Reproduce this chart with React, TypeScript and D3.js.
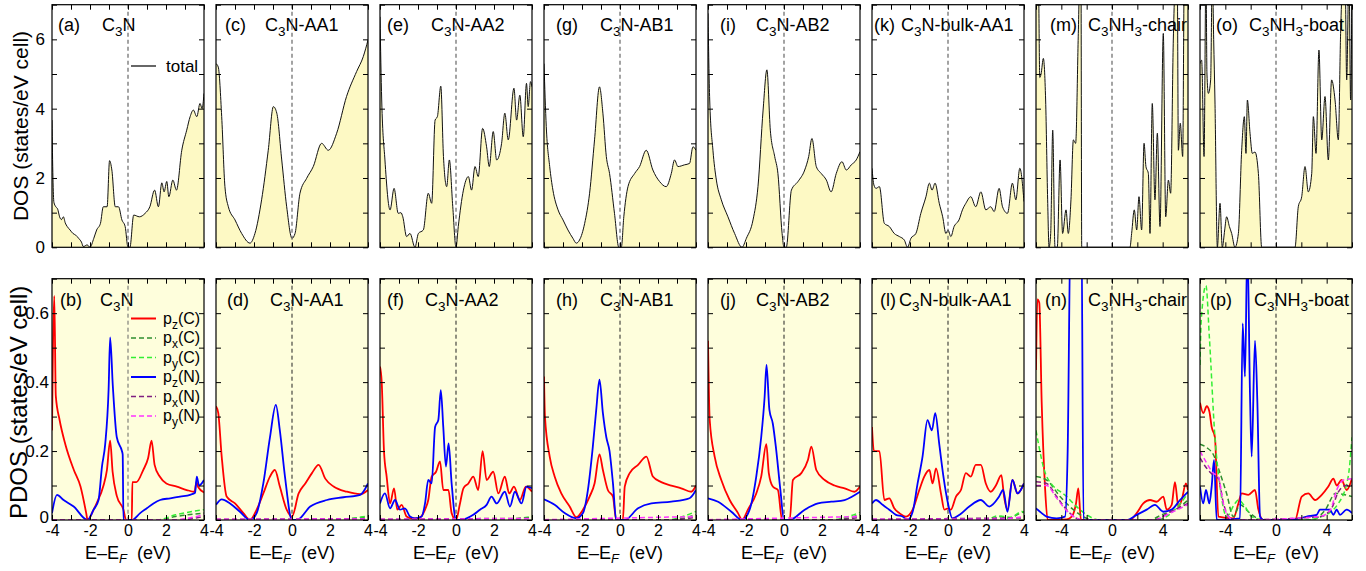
import React, { useRef, useEffect } from "react";
import * as d3 from "d3";

type Pt = [number, number];

// total DOS, top row: [E - EF (eV), states/eV cell]
const dosA: Pt[] = [[-4,3.67],[-3.95,2.0],[-3.9,1.3],[-3.8,1.17],[-3.7,1.1],[-3.6,0.88],[-3.5,0.8],[-3.4,0.88],[-3.3,0.7],[-3.2,0.6],[-3.05,0.5],[-2.9,0.4],[-2.75,0.35],[-2.6,0.26],[-2.45,0.15],[-2.35,0.02],[-2.15,0.07],[-2.0,0.0],[-1.8,0.26],[-1.65,0.5],[-1.45,0.69],[-1.3,1.17],[-1.1,1.17],[-0.97,2.5],[-0.85,2.23],[-0.67,1.17],[-0.5,1.17],[-0.32,0.79],[-0.15,0.6],[0,0],[0.1,0],[0.3,0.93],[0.6,0.88],[0.9,0.98],[1.15,1.17],[1.4,1.65],[1.6,1.17],[1.78,1.86],[1.9,1.6],[2.04,1.9],[2.15,1.46],[2.36,1.94],[2.55,1.65],[2.83,2.8],[3.09,3.38],[3.27,3.77],[3.44,3.96],[3.62,3.77],[3.79,4.15],[3.9,4.0],[4,4.44]];
const dosC: Pt[] = [[-4,5.3],[-3.88,5.2],[-3.7,3.77],[-3.53,1.75],[-3.35,1.17],[-3.0,0.79],[-2.65,0.4],[-2.21,0.12],[-1.95,0.4],[-1.6,1.37],[-1.25,2.8],[-0.98,4.06],[-0.8,3.87],[-0.54,2.52],[-0.28,1.17],[0,0.26],[0.16,0.4],[0.42,1.56],[0.77,1.99],[1.12,2.33],[1.56,3.0],[1.91,2.8],[2.35,3.29],[2.87,4.35],[3.4,5.07],[3.75,5.5],[4,5.98]];
const dosE: Pt[] = [[-4,6.65],[-3.91,4.25],[-3.74,2.52],[-3.47,1.08],[-3.26,1.7],[-3.04,0.98],[-2.9,1.0],[-2.8,0.88],[-2.6,0.31],[-2.42,0.4],[-2.16,0],[-1.98,0.4],[-1.72,0.5],[-1.46,1.56],[-1.28,1.27],[-1.1,3.67],[-0.98,3.77],[-0.8,4.65],[-0.66,2.62],[-0.49,1.75],[-0.35,2.52],[-0.17,1.17],[0,0],[0.12,0.6],[0.39,1.65],[0.65,2.04],[0.82,1.65],[1.0,2.33],[1.17,2.04],[1.4,3.43],[1.61,2.9],[1.75,2.33],[1.96,3.34],[2.14,2.52],[2.4,3.0],[2.57,3.87],[2.75,3.1],[3.05,4.59],[3.19,3.67],[3.36,4.39],[3.54,3.19],[3.71,4.73],[3.8,4.06],[3.92,4.78],[4,4.63]];
const dosG: Pt[] = [[-4,5.3],[-3.88,3.48],[-3.7,2.33],[-3.53,1.65],[-3.26,1.08],[-3.0,0.79],[-2.74,0.5],[-2.48,0.26],[-2.3,0.12],[-2.13,0.21],[-1.86,0.69],[-1.6,1.56],[-1.34,3.1],[-1.08,4.63],[-0.9,3.87],[-0.72,2.62],[-0.55,2.13],[-0.29,0.98],[-0.06,0],[0.07,0],[0.2,0.88],[0.42,1.75],[0.77,2.13],[1.03,2.33],[1.38,2.8],[1.73,2.23],[2.08,1.9],[2.43,1.75],[2.7,2.13],[2.87,2.52],[3.05,2.33],[3.4,2.38],[3.66,2.42],[3.84,2.9],[4,2.8]];
const dosI: Pt[] = [[-4,6.75],[-3.91,4.25],[-3.74,2.8],[-3.56,1.94],[-3.3,1.37],[-2.95,0.88],[-2.6,0.4],[-2.21,0],[-1.98,0.26],[-1.63,0.79],[-1.37,1.75],[-1.1,3.96],[-0.9,5.12],[-0.72,3.38],[-0.49,2.62],[-0.32,2.13],[-0.1,0.4],[0,0],[0.12,0],[0.39,1.65],[0.74,1.9],[1.09,2.23],[1.3,2.62],[1.47,3.14],[1.7,2.33],[1.96,2.13],[2.23,1.94],[2.48,1.6],[2.75,2.13],[3.05,2.47],[3.28,2.23],[3.54,2.38],[3.8,2.52],[4,2.76]];
const dosK: Pt[] = [[-4,2.28],[-3.9,1.8],[-3.79,1.7],[-3.61,1.75],[-3.35,0.69],[-3.09,0.6],[-2.83,0.4],[-2.56,0.31],[-2.3,0.21],[-2.13,0],[-1.95,0.26],[-1.69,0.4],[-1.43,0.98],[-1.16,1.46],[-0.98,1.85],[-0.84,1.65],[-0.68,1.85],[-0.46,1.27],[-0.28,0.88],[-0.11,0.4],[0,0.5],[0.15,0.31],[0.32,0.6],[0.58,0.79],[0.76,1.08],[0.94,1.27],[1.2,1.46],[1.46,1.17],[1.73,1.6],[1.99,1.08],[2.25,1.17],[2.43,1.03],[2.69,1.7],[2.87,1.17],[3.13,0.98],[3.39,1.85],[3.57,1.37],[3.78,2.28],[4,1.32]];
const dosM: Pt[] = [[-6,8],[-5.82,8],[-5.7,4.9],[-5.6,5.0],[-5.42,5.45],[-5.24,4.25],[-5.08,1.37],[-4.97,0],[-4.84,0.4],[-4.68,3.38],[-4.5,0],[-4.32,0],[-4.1,2.52],[-3.9,0.4],[-3.63,1.08],[-3.45,0.4],[-3.24,1.37],[-3.05,3.1],[-2.87,3.0],[-2.66,6.17],[-2.53,8],[-2.45,8],[-2.39,0],[1.42,0],[1.55,0.4],[1.76,1.08],[1.95,0.5],[2.13,1.46],[2.34,0.5],[2.53,3.0],[2.68,2.33],[2.87,2.13],[3.0,0.4],[3.18,4.15],[3.39,1.37],[3.58,3.29],[3.79,0.6],[4.05,6.17],[4.24,0.88],[4.45,1.94],[4.63,1.56],[4.84,5.98],[5.05,8],[5.15,8],[5.24,2.8],[5.39,3.58],[5.58,2.62],[5.71,8],[6,8]];
const dosO: Pt[] = [[-6,5.3],[-5.87,5.4],[-5.68,2.62],[-5.53,8],[-5.45,5.0],[-5.34,4.44],[-5.16,4.83],[-5.03,8],[-4.92,6],[-4.82,4.25],[-4.63,0],[-4.42,1.27],[-4.24,0],[-4.05,0.5],[-3.9,0.88],[-3.68,0.6],[-3.5,0.4],[-3.24,0],[-2.97,0.4],[-2.71,2.8],[-2.5,3.77],[-2.37,2.71],[-2.26,4.25],[-2.05,3.29],[-1.87,2.71],[-1.66,2.75],[-1.39,2.13],[-1.13,0],[1.5,0],[1.76,1.17],[2.03,1.46],[2.29,2.33],[2.55,1.6],[2.82,2.13],[2.95,3.77],[3.16,2.71],[3.39,5.69],[3.61,3.1],[3.87,4.35],[4.13,2.52],[4.39,4.83],[4.66,4.25],[4.92,3.1],[5.1,6.17],[5.32,8],[5.45,8],[5.58,4.83],[5.76,8],[5.89,4.25],[6,8]];

// projected DOS, bottom row: pz(C), px(C), py(C), pz(N), px(N), py(N)
const pzC_b: Pt[] = [[-4,0.26],[-3.95,0.5],[-3.88,0.65],[-3.8,0.36],[-3.6,0.29],[-3.3,0.22],[-2.85,0.145],[-2.5,0.097],[-2.2,0.02],[-2.13,0],[-1.81,0.03],[-1.64,0.05],[-1.29,0.1],[-1.11,0.145],[-0.94,0.23],[-0.81,0.14],[-0.59,0.07],[-0.24,0.03],[-0.1,0],[0.2,0],[0.23,0.11],[0.44,0.11],[0.8,0.145],[1.06,0.18],[1.24,0.23],[1.4,0.16],[1.67,0.126],[2.02,0.106],[2.57,0.097],[3.09,0.087],[3.5,0.082],[3.6,0.11],[3.7,0.095],[4,0.08]];
const pzN_b: Pt[] = [[-4,0.02],[-3.74,0.073],[-3.39,0.058],[-2.86,0.039],[-2.13,0],[-1.81,0.03],[-1.55,0.058],[-1.37,0.155],[-1.2,0.22],[-1.02,0.38],[-0.94,0.53],[-0.8,0.39],[-0.59,0.24],[-0.32,0.2],[-0.28,0.19],[-0.24,0],[0.2,0],[0.64,0.02],[0.99,0.034],[1.34,0.048],[1.69,0.058],[2.22,0.063],[2.74,0.068],[3.27,0.073],[3.53,0.079],[3.62,0.126],[3.74,0.1],[4,0.116]];
const pxC_b: Pt[] = [[-4,0],[1.6,0],[2.5,0.01],[4,0.02]];
const pyC_b: Pt[] = [[-4,0],[1.5,0],[2.5,0.015],[4,0.03]];
const pxN_b: Pt[] = [[-4,0],[2.5,0],[4,0.01]];
const pyN_b: Pt[] = [[-4,0],[2.2,0],[4,0.015]];

const pzC_d: Pt[] = [[-4,0.33],[-3.88,0.31],[-3.7,0.184],[-3.44,0.068],[-3.0,0.048],[-2.56,0.02],[-2.21,0],[-1.86,0.03],[-1.51,0.077],[-1.16,0.126],[-0.9,0.145],[-0.64,0.097],[-0.28,0.03],[0,0.01],[0.35,0.077],[0.7,0.106],[1.05,0.136],[1.4,0.16],[1.75,0.12],[2.19,0.097],[2.89,0.082],[3.59,0.075],[4,0.087]];
const pzN_d: Pt[] = [[-4,0.044],[-3.7,0.06],[-3.26,0.048],[-2.74,0.024],[-2.21,0],[-1.86,0.02],[-1.51,0.106],[-1.16,0.24],[-0.85,0.334],[-0.64,0.26],[-0.37,0.126],[0,0],[0.26,0],[0.96,0.039],[1.84,0.058],[2.71,0.066],[3.59,0.073],[4,0.106]];
const pxC_d: Pt[] = [[-4,0],[2.0,0],[4,0.01]];
const pyC_d: Pt[] = [[-4,0],[2.2,0],[4,0.012]];
const pxN_d: Pt[] = [[-4,0.002],[4,0.004]];
const pyN_d: Pt[] = [[-4,0.002],[4,0.003]];

const pzC_f: Pt[] = [[-4,0.445],[-3.91,0.4],[-3.79,0.2],[-3.65,0.126],[-3.47,0.048],[-3.26,0.092],[-3.09,0.03],[-2.86,0.044],[-2.6,0.01],[-2.34,0.005],[-1.98,0.005],[-1.63,0.03],[-1.46,0.058],[-1.28,0.126],[-1.05,0.14],[-0.84,0.17],[-0.67,0.087],[-0.4,0.087],[-0.23,0.02],[0,0],[0.21,0.048],[0.39,0.092],[0.65,0.106],[0.91,0.126],[1.17,0.087],[1.4,0.2],[1.61,0.116],[1.96,0.14],[2.23,0.077],[2.57,0.126],[2.8,0.077],[3.05,0.097],[3.36,0.058],[3.68,0.097],[4,0.082]];
const pzN_f: Pt[] = [[-4,0.048],[-3.74,0.077],[-3.47,0.034],[-3.21,0.058],[-2.95,0.03],[-2.69,0.034],[-2.42,0.01],[-2.16,0.005],[-1.81,0.01],[-1.63,0.048],[-1.46,0.116],[-1.28,0.106],[-1.1,0.27],[-0.93,0.29],[-0.8,0.377],[-0.67,0.27],[-0.53,0.155],[-0.39,0.222],[-0.23,0.106],[0,0],[0.21,0],[0.91,0.015],[1.26,0.03],[1.61,0.044],[1.87,0.068],[2.14,0.048],[2.57,0.082],[2.84,0.039],[3.1,0.082],[3.45,0.048],[3.71,0.097],[4,0.092]];
const pxC_f: Pt[] = [[-4,0],[2.5,0],[4,0.008]];
const pyC_f: Pt[] = [[-4,0],[2.3,0],[4,0.01]];
const pxN_f: Pt[] = [[-4,0.002],[4,0.005]];
const pyN_f: Pt[] = [[-4,0.002],[4,0.004]];

const pzC_h: Pt[] = [[-4,0.416],[-3.95,0.3],[-3.7,0.184],[-3.44,0.126],[-3.09,0.077],[-2.65,0.039],[-2.3,0.008],[-1.95,0.03],[-1.6,0.068],[-1.34,0.106],[-1.08,0.19],[-0.9,0.145],[-0.64,0.087],[-0.37,0.068],[-0.2,0],[0.15,0],[0.25,0.097],[0.51,0.136],[0.95,0.16],[1.39,0.184],[1.73,0.126],[2.17,0.11],[2.7,0.1],[3.22,0.092],[3.75,0.082],[4,0.1]];
const pzN_h: Pt[] = [[-4,0.06],[-3.44,0.044],[-2.91,0.02],[-2.3,0.005],[-1.95,0.02],[-1.69,0.087],[-1.43,0.213],[-1.25,0.32],[-1.08,0.407],[-0.9,0.31],[-0.72,0.24],[-0.55,0.2],[-0.37,0.106],[-0.2,0],[0.25,0],[0.95,0.034],[1.65,0.048],[2.7,0.053],[3.66,0.063],[4,0.087]];
const pxC_h: Pt[] = [[-4,0],[2.6,0],[4,0.015]];
const pyC_h: Pt[] = [[-4,0],[2.4,0],[4,0.025]];
const pxN_h: Pt[] = [[-4,0],[2.5,0],[4,0.008]];
const pyN_h: Pt[] = [[-4,0.001],[4,0.01]];

const pzC_j: Pt[] = [[-4,0.52],[-3.91,0.29],[-3.65,0.184],[-3.3,0.116],[-2.86,0.058],[-2.42,0.02],[-2.21,0],[-1.9,0.03],[-1.46,0.077],[-1.2,0.126],[-0.93,0.22],[-0.8,0.136],[-0.59,0.097],[-0.32,0.087],[-0.1,0],[0.3,0],[0.47,0.116],[0.91,0.136],[1.26,0.174],[1.44,0.213],[1.7,0.145],[2.14,0.116],[2.66,0.1],[3.19,0.092],[3.71,0.082],[4,0.097]];
const pzN_j: Pt[] = [[-4,0.063],[-3.47,0.053],[-2.77,0.024],[-2.21,0],[-1.81,0.03],[-1.46,0.126],[-1.2,0.24],[-1.02,0.357],[-0.92,0.45],[-0.77,0.32],[-0.59,0.28],[-0.42,0.208],[-0.19,0.087],[0,0],[0.3,0],[1.09,0.03],[1.79,0.048],[2.49,0.053],[3.19,0.058],[4,0.082]];
const pxC_j: Pt[] = [[-4,0],[2.6,0],[4,0.015]];
const pyC_j: Pt[] = [[-4,0],[2.4,0],[4,0.022]];
const pxN_j: Pt[] = [[-4,0],[2.5,0],[4,0.008]];
const pyN_j: Pt[] = [[-4,0.001],[4,0.01]];

const pzC_l: Pt[] = [[-4,0.27],[-3.9,0.2],[-3.79,0.2],[-3.61,0.2],[-3.35,0.058],[-3.09,0.063],[-2.83,0.034],[-2.56,0.02],[-2.21,0.01],[-1.86,0.03],[-1.51,0.087],[-1.25,0.126],[-0.98,0.145],[-0.81,0.106],[-0.63,0.15],[-0.37,0.077],[-0.19,0.03],[0,0.034],[0.15,0.03],[0.42,0.068],[0.68,0.087],[0.94,0.136],[1.2,0.126],[1.46,0.16],[1.73,0.16],[1.99,0.106],[2.25,0.082],[2.52,0.1],[2.81,0.13],[2.95,0.068],[3.13,0.03],[3.39,0.116],[3.66,0.077],[4,0.106]];
const pzN_l: Pt[] = [[-4,0.048],[-3.79,0.058],[-3.44,0.044],[-3.09,0.03],[-2.74,0.015],[-2.39,0.01],[-2.13,0],[-1.86,0.024],[-1.6,0.106],[-1.34,0.184],[-1.08,0.29],[-0.85,0.26],[-0.67,0.31],[-0.46,0.22],[-0.24,0.126],[0,0.048],[0.23,0.005],[0.61,0.015],[1.12,0.039],[1.73,0.058],[2.17,0.039],[2.69,0.068],[2.9,0.087],[3.13,0.024],[3.39,0.116],[3.66,0.077],[4,0.106]];
const pxC_l: Pt[] = [[-4,0],[2.2,0],[2.8,0.01],[3.2,0.005],[3.8,0.02],[4,0.024]];
const pyC_l: Pt[] = [[-4,0],[2.0,0],[2.6,0.012],[3.3,0.008],[3.9,0.025],[4,0.02]];
const pxN_l: Pt[] = [[-4,0.002],[4,0.006]];
const pyN_l: Pt[] = [[-4,0.002],[2.5,0.002],[4,0.01]];

const pzC_n: Pt[] = [[-6,0.435],[-5.89,0.64],[-5.74,0.63],[-5.55,0.34],[-5.29,0.097],[-5.08,0],[-3.58,0.002],[-3.18,0.01],[-2.84,0.048],[-2.66,0.092],[-2.45,0],[1.42,0],[1.95,0.02],[2.47,0.048],[3.0,0.058],[3.53,0.053],[4.05,0.068],[4.32,0.03],[4.71,0.044],[4.97,0.11],[5.24,0.039],[5.5,0.058],[5.84,0.106],[6,0.087]];
const pxC_n: Pt[] = [[-6,0.126],[-5.16,0.116],[-4.1,0.068],[-3.05,0.03],[-2.0,0.005],[-1.5,0],[3.0,0],[3.9,0.015],[5.2,0.034],[6,0.058]];
const pyC_n: Pt[] = [[-6,0.26],[-5.16,0.126],[-3.58,0.068],[-2.53,0.03],[-1.5,0.005],[-1,0],[3.4,0],[4.3,0.01],[5.4,0.048],[6,0.078]];
const pzN_n: Pt[] = [[-6,0.034],[-5.55,0.02],[-5.16,0.01],[-4.37,0.005],[-3.71,0.01],[-3.5,0.2],[-3.25,0.9],[-2.42,0.9],[-2.25,0],[1.16,0],[1.95,0.015],[2.74,0.03],[3.39,0.044],[4.05,0.024],[4.71,0.03],[5.37,0.058],[6,0.082]];
const pxN_n: Pt[] = [[-6,0.111],[-5.16,0.106],[-4.37,0.068],[-3.58,0.03],[-2.8,0.005],[-2.4,0],[3.3,0],[4.6,0.024],[6,0.048]];
const pyN_n: Pt[] = [[-6,0.1],[-5.16,0.1],[-4.4,0.065],[-3.6,0.028],[-2.8,0.005],[-2.4,0],[3.3,0],[4.6,0.02],[6,0.045]];

const pzC_p: Pt[] = [[-6,0.34],[-5.74,0.31],[-5.47,0.33],[-5.26,0.315],[-5.08,0.27],[-4.82,0.24],[-4.55,0.01],[-3.37,0.005],[-2.97,0.048],[-2.71,0.077],[-2.18,0.073],[-1.66,0.087],[-1.39,0.03],[-1.0,0],[1.5,0],[2.03,0.068],[2.55,0.077],[3.08,0.058],[3.61,0.073],[4.13,0.097],[4.53,0.12],[4.79,0.1],[5.18,0.116],[5.58,0.087],[6,0.12]];
const pxC_p: Pt[] = [[-6,0.22],[-5.47,0.21],[-4.95,0.19],[-4.42,0.136],[-3.9,0.077],[-3.37,0.01],[-2.84,0.044],[-2.18,0.024],[-1.5,0.005],[-1,0],[2.8,0],[3.9,0.03],[4.7,0.077],[6,0.068]];
const pyC_p: Pt[] = [[-6,0.45],[-5.9,0.58],[-5.53,0.68],[-5.26,0.53],[-4.82,0.24],[-4.42,0.097],[-3.9,0.01],[-3.24,0.048],[-2.97,0.058],[-2.45,0.039],[-1.92,0.01],[-0.95,0],[2.3,0],[3.61,0.01],[4.92,0.048],[5.7,0.126],[6,0.24]];
const pzN_p: Pt[] = [[-6,0.097],[-5.74,0.048],[-5.53,0.087],[-5.26,0.048],[-5.08,0.097],[-4.89,0.174],[-4.68,0],[-2.84,0.005],[-2.63,0.57],[-2.45,0.416],[-2.26,0.8],[-2.05,0.358],[-1.92,0.184],[-1.66,0.52],[-1.47,0.34],[-1.26,0.01],[-1.0,0],[1.5,0.002],[2.42,0.01],[3.21,0.015],[3.47,0.03],[4.26,0.03],[4.53,0.015],[4.79,0.03],[5.05,0.015],[5.58,0.03],[6,0.02]];
const pxN_p: Pt[] = [[-6,0.18],[-5.47,0.15],[-4.95,0.13],[-4.55,0.12],[-4.16,0.05],[-3.6,0.005],[-3.2,0],[3.5,0.01],[4.4,0.035],[4.9,0.08],[5.5,0.1],[6,0.1]];
const pyN_p: Pt[] = [[-6,0.2],[-5.47,0.165],[-4.95,0.136],[-4.55,0.126],[-4.16,0.048],[-3.63,0.005],[-3.2,0],[3.5,0.01],[4.3,0.03],[4.79,0.087],[5.32,0.116],[6,0.12]];

// ticks
const narrowTicks = [-4, -3, -2, -1, 0, 1, 2, 3, 4];
const narrowLabels = [-4, -2, 0, 2, 4];
const wideTicks = [-6, -4, -2, 0, 2, 4, 6];
const wideLabels = [-4, 0, 4];
const dosTicks = [0, 1, 2, 3, 4, 5, 6, 7];
const dosLabels = [0, 2, 4, 6];
const pdosTicks = [0, 0.1, 0.2, 0.3, 0.4, 0.5, 0.6, 0.7];
const pdosLabels = [0, 0.2, 0.4, 0.6];

const legendNames = ["p_z(C)", "p_x(C)", "p_y(C)", "p_z(N)", "p_x(N)", "p_y(N)"];
const seriesColors = ["#ff0000", "#2f8f2f", "#33ee33", "#0000ff", "#801f80", "#ff33ff"];

const topPanels = [
  { tag: "(a)", name: "C_3N", data: dosA, wide: false, tagDx: 6, nameDx: 50 },
  { tag: "(c)", name: "C_3N-AA1", data: dosC, wide: false, tagDx: 9, nameDx: 49 },
  { tag: "(e)", name: "C_3N-AA2", data: dosE, wide: false, tagDx: 7, nameDx: 51 },
  { tag: "(g)", name: "C_3N-AB1", data: dosG, wide: false, tagDx: 12, nameDx: 56 },
  { tag: "(i)", name: "C_3N-AB2", data: dosI, wide: false, tagDx: 12, nameDx: 48 },
  { tag: "(k)", name: "C_3N-bulk-AA1", data: dosK, wide: false, tagDx: 2, nameDx: 29 },
  { tag: "(m)", name: "C_3NH_3-chair", data: dosM, wide: true, tagDx: 14, nameDx: 52 },
  { tag: "(o)", name: "C_3NH_3-boat", data: dosO, wide: true, tagDx: 16, nameDx: 49 },
];

const bottomPanels = [
  { tag: "(b)", name: "C_3N", series: [pzC_b, pxC_b, pyC_b, pzN_b, pxN_b, pyN_b], wide: false, tagDx: 8, nameDx: 48 },
  { tag: "(d)", name: "C_3N-AA1", series: [pzC_d, pxC_d, pyC_d, pzN_d, pxN_d, pyN_d], wide: false, tagDx: 11, nameDx: 54 },
  { tag: "(f)", name: "C_3N-AA2", series: [pzC_f, pxC_f, pyC_f, pzN_f, pxN_f, pyN_f], wide: false, tagDx: 7, nameDx: 45 },
  { tag: "(h)", name: "C_3N-AB1", series: [pzC_h, pxC_h, pyC_h, pzN_h, pxN_h, pyN_h], wide: false, tagDx: 12, nameDx: 56 },
  { tag: "(j)", name: "C_3N-AB2", series: [pzC_j, pxC_j, pyC_j, pzN_j, pxN_j, pyN_j], wide: false, tagDx: 12, nameDx: 48 },
  { tag: "(l)", name: "C_3N-bulk-AA1", series: [pzC_l, pxC_l, pyC_l, pzN_l, pxN_l, pyN_l], wide: false, tagDx: 8, nameDx: 27 },
  { tag: "(n)", name: "C_3NH_3-chair", series: [pzC_n, pxC_n, pyC_n, pzN_n, pxN_n, pyN_n], wide: true, tagDx: 9, nameDx: 52 },
  { tag: "(p)", name: "C_3NH_3-boat", series: [pzC_p, pxC_p, pyC_p, pzN_p, pxN_p, pyN_p], wide: true, tagDx: 10, nameDx: 54 },
];

const FONT = "'Liberation Sans', Arial, Helvetica, sans-serif";

// text with "_x" meaning subscript x
function richText(g: any, x: number, y: number, str: string, size: number) {
  const t = g.append("text").attr("x", x).attr("y", y).attr("font-size", size);
  const parts = str.split(/(_.)/).filter((s) => s.length > 0);
  let down = false;
  parts.forEach((p) => {
    if (p[0] === "_" && p.length === 2) {
      t.append("tspan").attr("font-size", size * 0.75).attr("dy", down ? 0 : size * 0.32).text(p[1]);
      down = true;
    } else {
      t.append("tspan").attr("dy", down ? -size * 0.32 : 0).text(p);
      down = false;
    }
  });
  return t;
}

const App = () => {
  const ref = useRef<SVGSVGElement>(null);

  useEffect(() => {
    const svg = d3.select(ref.current);
    svg.selectAll("*").remove();
    svg.attr("font-family", FONT);

    const X0 = 52;
    const PITCH = 164;
    const W = 152;
    const rows = [
      { top: 4.7, bottom: 247.3, ymax: 7, ticks: dosTicks, labels: dosLabels, labelPad: 7, lift: 0 },
      { top: 278.7, bottom: 520, ymax: 0.7, ticks: pdosTicks, labels: pdosLabels, labelPad: 3, lift: 3 },
    ];
    const defs = svg.append("defs");

    const drawFrame = (g: any, x: any, y: any, row: any, col: number, wide: boolean, isBottom: boolean) => {
      const xt = wide ? wideTicks : narrowTicks;
      const xl = wide ? wideLabels : narrowLabels;
      const ax = g.append("g").attr("transform", `translate(0,${row.bottom})`)
        .call(d3.axisBottom(x).tickValues(xt).tickSizeInner(-5).tickSizeOuter(0).tickPadding(5)
          .tickFormat((v: any) => (isBottom && xl.includes(v) ? String(v) : "")));
      ax.select(".domain").remove();
      ax.selectAll("text").attr("font-size", 16).attr("font-family", FONT);
      const at = g.append("g").attr("transform", `translate(0,${row.top})`)
        .call(d3.axisTop(x).tickValues(xt).tickSizeInner(-5).tickSizeOuter(0).tickFormat(() => ""));
      at.select(".domain").remove();
      const al = g.append("g").attr("transform", `translate(${x.range()[0]},0)`)
        .call(d3.axisLeft(y).tickValues(row.ticks).tickSizeInner(-5).tickSizeOuter(0).tickPadding(row.labelPad)
          .tickFormat((v: any) => (col === 0 && row.labels.includes(v) ? String(v) : "")));
      al.select(".domain").remove();
      al.selectAll("text").attr("font-size", 17).attr("font-family", FONT);
      // keep the lowest y label clear of the first x label
      al.selectAll(".tick").filter((v: any) => v === 0).select("text").attr("y", -row.lift);
      const ar = g.append("g").attr("transform", `translate(${x.range()[1]},0)`)
        .call(d3.axisRight(y).tickValues(row.ticks).tickSizeInner(-5).tickSizeOuter(0).tickFormat(() => ""));
      ar.select(".domain").remove();
      g.append("rect").attr("x", x.range()[0]).attr("y", row.top)
        .attr("width", W).attr("height", row.bottom - row.top)
        .attr("fill", "none").attr("stroke", "#000").attr("stroke-width", 1.2);
    };

    // top row: total DOS
    topPanels.forEach((p, j) => {
      const row = rows[0];
      const left = X0 + PITCH * j;
      const x = d3.scaleLinear().domain(p.wide ? [-6, 6] : [-4, 4]).range([left, left + W]);
      const y = d3.scaleLinear().domain([0, row.ymax]).range([row.bottom, row.top]);
      const cid = `clipT${j}`;
      defs.append("clipPath").attr("id", cid).append("rect")
        .attr("x", left).attr("y", row.top).attr("width", W).attr("height", row.bottom - row.top);
      const g = svg.append("g");
      g.append("rect").attr("x", left).attr("y", row.top).attr("width", W)
        .attr("height", row.bottom - row.top).attr("fill", "#fff");
      const c = g.append("g").attr("clip-path", `url(#${cid})`);
      const area = d3.area<Pt>().x((d) => x(d[0])).y0(y(0)).y1((d) => y(d[1])).curve(d3.curveMonotoneX);
      const line = d3.line<Pt>().x((d) => x(d[0])).y((d) => y(d[1])).curve(d3.curveMonotoneX);
      c.append("path").attr("d", area(p.data)).attr("fill", "#fdf9c4");
      c.append("path").attr("d", line(p.data)).attr("fill", "none").attr("stroke", "#111").attr("stroke-width", 1);
      const lab = c.append("g").attr("fill", "#000");
      lab.append("text").attr("x", left + p.tagDx).attr("y", row.top + 26).attr("font-size", 18).text(p.tag);
      richText(lab, left + p.nameDx, row.top + 26, p.name, 18);
      c.append("line").attr("x1", x(0)).attr("x2", x(0)).attr("y1", row.top).attr("y2", row.bottom)
        .attr("stroke", "#666").attr("stroke-width", 1.2).attr("stroke-dasharray", "4,3");
      drawFrame(g, x, y, row, j, p.wide, false);
      if (j === 0) {
        g.append("line").attr("x1", 131).attr("x2", 156).attr("y1", 66).attr("y2", 66)
          .attr("stroke", "#000").attr("stroke-width", 1.2);
        g.append("text").attr("x", 166).attr("y", 72).attr("font-size", 17).text("total");
      }
    });

    // bottom row: projected DOS
    bottomPanels.forEach((p, j) => {
      const row = rows[1];
      const left = X0 + PITCH * j;
      const x = d3.scaleLinear().domain(p.wide ? [-6, 6] : [-4, 4]).range([left, left + W]);
      const y = d3.scaleLinear().domain([0, row.ymax]).range([row.bottom, row.top]);
      const cid = `clipB${j}`;
      defs.append("clipPath").attr("id", cid).append("rect")
        .attr("x", left).attr("y", row.top).attr("width", W).attr("height", row.bottom - row.top);
      const g = svg.append("g");
      g.append("rect").attr("x", left).attr("y", row.top).attr("width", W)
        .attr("height", row.bottom - row.top).attr("fill", "#fefedc");
      const c = g.append("g").attr("clip-path", `url(#${cid})`);
      const line = d3.line<Pt>().x((d) => x(d[0])).y((d) => y(d[1])).curve(d3.curveMonotoneX);
      const lab = c.append("g").attr("fill", "#000");
      lab.append("text").attr("x", left + p.tagDx).attr("y", row.top + 27).attr("font-size", 18).text(p.tag);
      richText(lab, left + p.nameDx, row.top + 27, p.name, 18);
      c.append("line").attr("x1", x(0)).attr("x2", x(0)).attr("y1", row.top).attr("y2", row.bottom)
        .attr("stroke", j === 0 ? "#666" : "#222").attr("stroke-width", 1).attr("stroke-dasharray", "4,3");
      p.series.forEach((s, k) => {
        const solid = k === 0 || k === 3;
        c.append("path").attr("d", line(s)).attr("fill", "none")
          .attr("stroke", seriesColors[k]).attr("stroke-width", solid ? 1.8 : 1.5)
          .attr("stroke-dasharray", solid ? null : "5,3");
      });
      drawFrame(g, x, y, row, j, p.wide, true);

      // axis title under each panel
      const t = g.append("text").attr("x", left + W / 2).attr("y", 559)
        .attr("text-anchor", "middle").attr("font-size", 18);
      t.append("tspan").text("E\u2013E");
      t.append("tspan").attr("font-size", 13).attr("font-style", "italic").attr("dy", 4).text("F");
      t.append("tspan").attr("dy", -4).attr("dx", 10).text("(eV)");

      if (j === 0) {
        legendNames.forEach((nm, k) => {
          const ly = 318.5 + k * 19.5;
          const solid = k === 0 || k === 3;
          g.append("line").attr("x1", 131).attr("x2", 156).attr("y1", ly).attr("y2", ly)
            .attr("stroke", seriesColors[k]).attr("stroke-width", solid ? 2 : 1.5)
            .attr("stroke-dasharray", solid ? null : "5,3");
          richText(g, 163, ly + 5, nm, 16);
        });
      }
    });

    // y-axis titles
    svg.append("text").attr("transform", `translate(21,${(rows[0].top + rows[0].bottom) / 2}) rotate(-90)`)
      .attr("text-anchor", "middle").attr("dy", "0.35em").attr("font-size", 21).text("DOS (states/eV cell)");
    svg.append("text").attr("transform", `translate(19,${(rows[1].top + rows[1].bottom) / 2 + 3}) rotate(-90)`)
      .attr("text-anchor", "middle").attr("dy", "0.35em").attr("font-size", 24).text("PDOS (states/eV cell)");
  }, []);

  return (
    <div style={{ position: "absolute", left: 0, top: 0 }}>
      <svg ref={ref} width={1366} height={571} style={{ display: "block", background: "#fff" }} />
    </div>
  );
};

export default App;
